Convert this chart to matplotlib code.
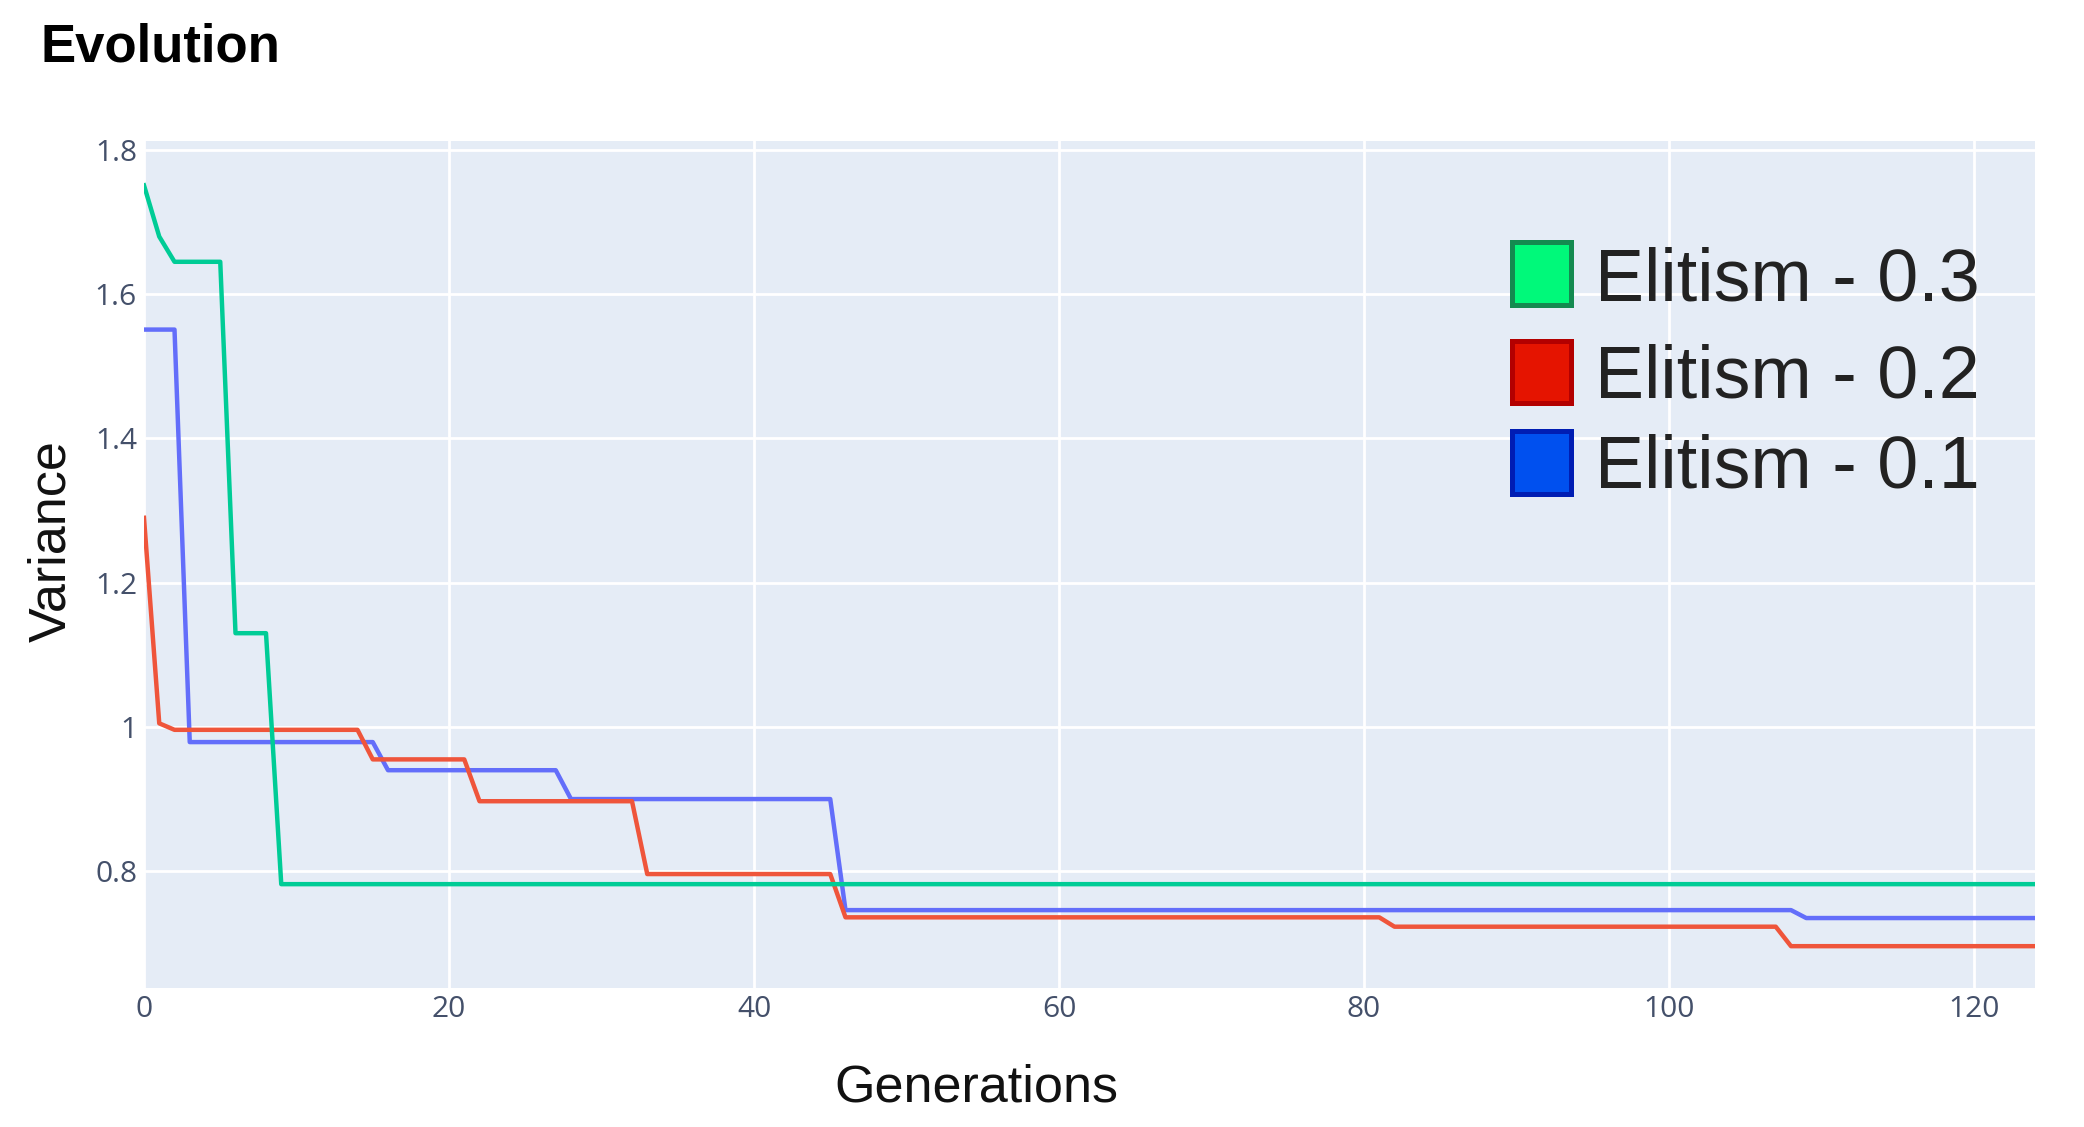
import numpy as np
import matplotlib
matplotlib.use('Agg')
import matplotlib.pyplot as plt
from matplotlib.patches import Rectangle

# Data (vertices of each step line)
gen_03 = [0, 1, 2, 5, 6, 8, 9, 124]
var_03 = [1.751, 1.68, 1.645, 1.645, 1.13, 1.13, 0.782, 0.782]

gen_02 = [0, 1, 2, 14, 15, 21, 22, 32, 33, 45, 46, 81, 82, 107, 108, 124]
var_02 = [1.29, 1.005, 0.996, 0.996, 0.955, 0.955, 0.897, 0.897,
          0.796, 0.796, 0.736, 0.736, 0.723, 0.723, 0.696, 0.696]

gen_01 = [0, 2, 3, 15, 16, 27, 28, 45, 46, 108, 109, 124]
var_01 = [1.551, 1.551, 0.979, 0.979, 0.94, 0.94, 0.9, 0.9,
          0.746, 0.746, 0.735, 0.735]

legend_labels = ['Elitism - 0.3', 'Elitism - 0.2', 'Elitism - 0.1']
legend_fill = ['#00f97a', '#e51400', '#0050ef']
legend_edge = ['#148a50', '#b30000', '#001db3']

yticks = [0.8, 1.0, 1.2, 1.4, 1.6, 1.8]
ytick_labels = ['0.8', '1', '1.2', '1.4', '1.6', '1.8']
xticks = [0, 20, 40, 60, 80, 100, 120]

W, H = 2084, 1127
fig = plt.figure(figsize=(W / 100, H / 100), dpi=100)
ax = fig.add_axes([144 / W, 1 - 988 / H, 1891 / W, 847 / H])
ax.set_facecolor('#e5ecf6')
for s in ax.spines.values():
    s.set_visible(False)

ax.plot(gen_01, var_01, color='#636efa', lw=3.2, zorder=3)
ax.plot(gen_02, var_02, color='#ef553b', lw=3.2, zorder=4)
ax.plot(gen_03, var_03, color='#00cc96', lw=3.2, zorder=5)

ax.set_xlim(0, 124)
ax.set_ylim(0.638, 1.8125)
ax.set_xticks(xticks)
ax.set_yticks(yticks)
ax.set_yticklabels(ytick_labels)
ax.grid(True, color='white', lw=2.0, zorder=0)
ax.set_axisbelow(True)
ax.tick_params(length=0, labelsize=21.5, labelcolor='#44506a', pad=5)
for lab in ax.get_xticklabels() + ax.get_yticklabels():
    lab.set_family('Open Sans')

fig.text(40 / W, 1 - 61.5 / H, 'Evolution', fontsize=38, fontweight='bold',
         family='Liberation Sans', color='black', ha='left', va='baseline')
fig.text(976 / W, 1 - 1101.7 / H, 'Generations', fontsize=37.5,
         family='Liberation Sans', color='#111111', ha='center', va='baseline')
fig.text(65 / W, 1 - 541 / H, 'Variance', fontsize=37.5, rotation=90,
         rotation_mode='anchor', family='Liberation Sans', color='#111111',
         ha='center', va='baseline')

# custom legend: coloured squares with big labels
row_center = [273.5, 371.5, 462.5]
row_base = [301, 397, 487]
for lab, fc, ec, yc, yb in zip(legend_labels, legend_fill, legend_edge, row_center, row_base):
    fig.patches.append(Rectangle(((1509 + 2.5) / W, 1 - (yc + 31) / H), 59 / W, 62 / H,
                                 transform=fig.transFigure, facecolor=fc,
                                 edgecolor=ec, lw=3.6, zorder=10))
    fig.text(1595 / W, 1 - yb / H, lab, fontsize=53, family='Liberation Sans',
             color='#222222', ha='left', va='baseline', zorder=11)

fig.savefig('out.png', dpi=100)
